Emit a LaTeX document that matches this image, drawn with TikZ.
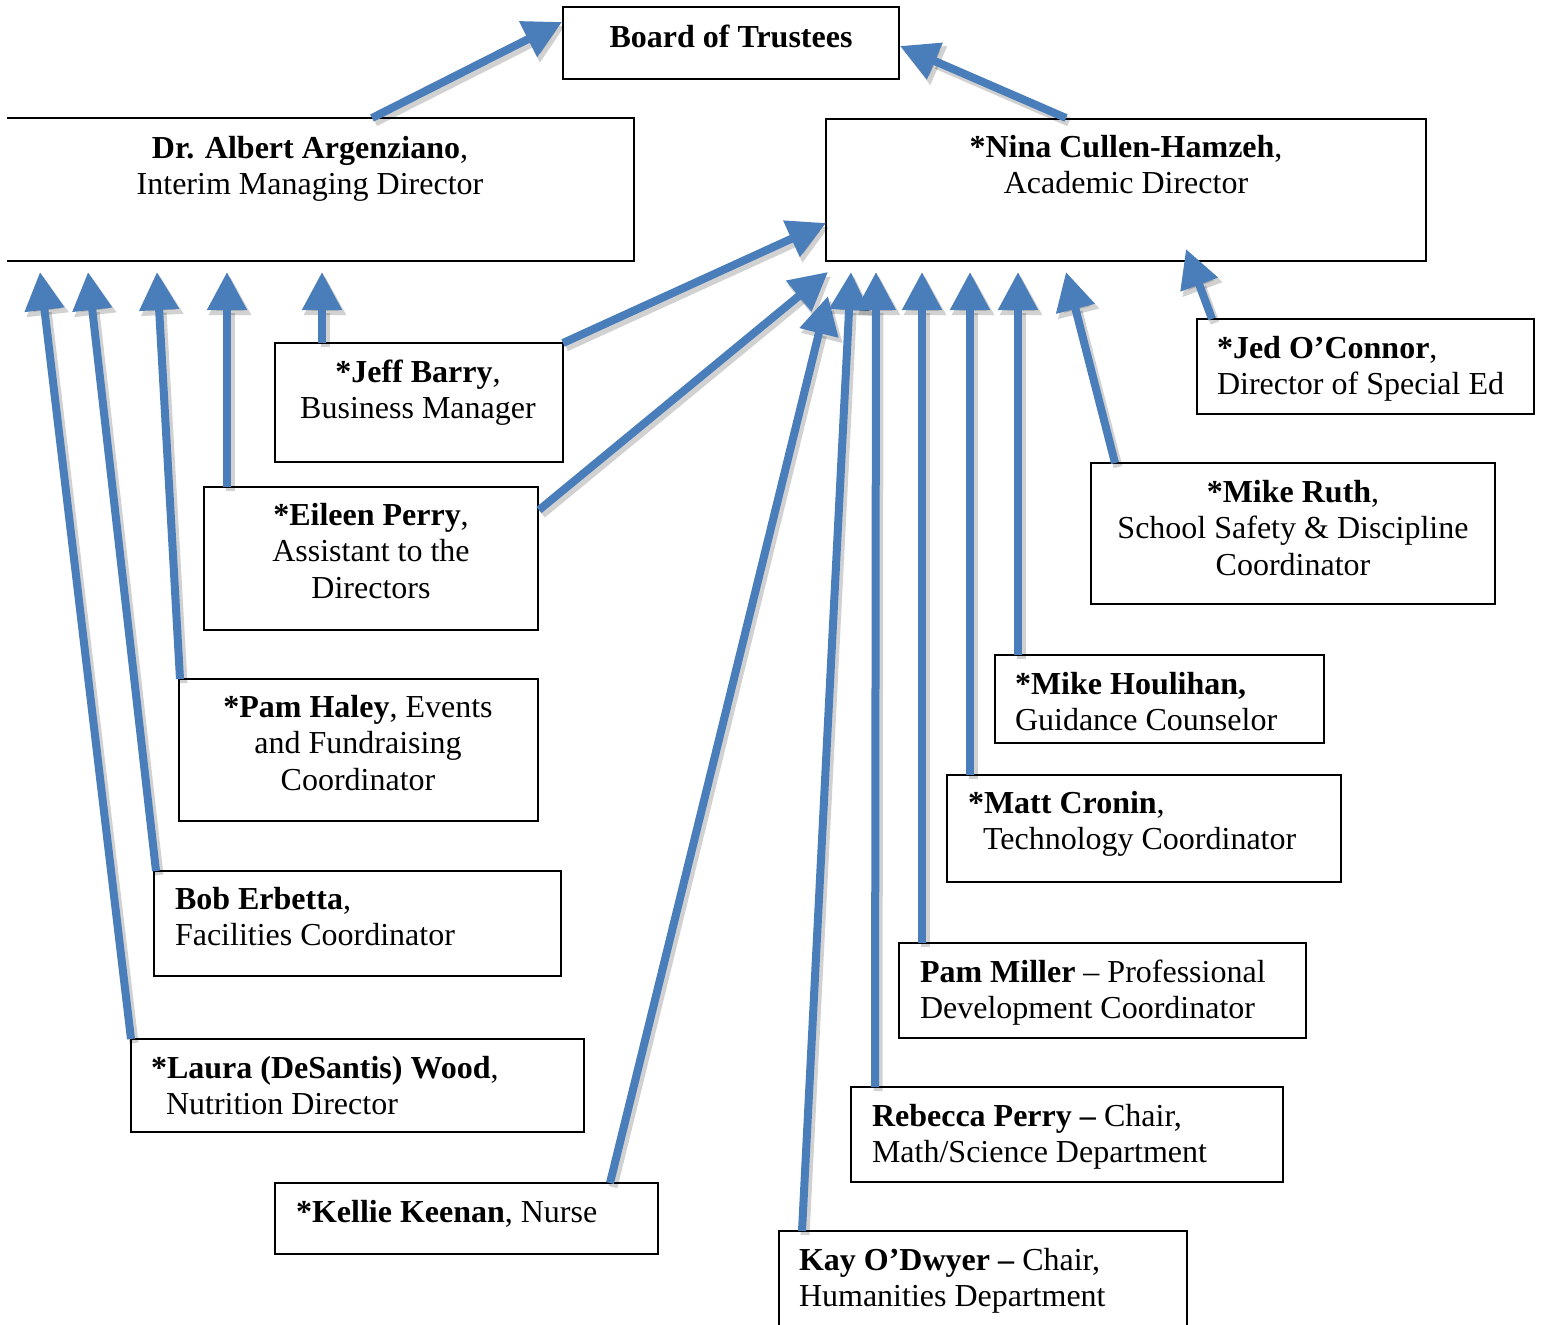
\documentclass[tikz,border=0pt]{standalone}
\usepackage{fontspec}
\setmainfont{Liberation Serif}
\usetikzlibrary{arrows.meta,calc}
\definecolor{ablue}{RGB}{74,126,187}
\newcommand\orgarrow[2]{%
  \draw[shad] #1 -- #2;
  \draw[arr] #1 -- #2;}
\begin{document}
\begin{tikzpicture}[x=1pt,y=-1pt,
  box/.style={draw=black, line width=2pt, inner sep=0pt, outer sep=0pt, anchor=north west},
  nobox/.style={inner sep=0pt, outer sep=0pt, anchor=north west},
  edge/.style={draw=black, line width=2pt},
  txtc/.style={inner sep=0pt, outer sep=0pt, anchor=base, align=center, font=\fontsize{32}{36.8}\selectfont},
  txtl/.style={inner sep=0pt, outer sep=0pt, anchor=base west, align=left, font=\fontsize{32}{36.8}\selectfont},
  arr/.style={draw=ablue, line width=8pt, -{Triangle[width=38pt,length=38pt]}},
  shad/.style={draw=black, opacity=0.18, line width=9pt, -{Triangle[width=40pt,length=39pt]}, transform canvas={shift={(3pt,-4pt)}}}
]
\useasboundingbox[fill=white] (0,0) rectangle (1542,1325);

% boxes
\node[box, minimum width=336pt, minimum height=72pt] (board) at (563,7) {};
\node[nobox, minimum width=627pt, minimum height=143pt] (albert) at (7,118) {};
\draw[edge] (albert.north west) -- (albert.north east) -- (albert.south east) -- (albert.south west);
\node[box, minimum width=600pt, minimum height=142pt] (nina) at (826,119) {};
\node[box, minimum width=337pt, minimum height=95pt] (jed) at (1197,319) {};
\node[box, minimum width=288pt, minimum height=119pt] (jeff) at (275,343) {};
\node[box, minimum width=404pt, minimum height=141pt] (ruth) at (1091,463) {};
\node[box, minimum width=334pt, minimum height=143pt] (eileen) at (204,487) {};
\node[box, minimum width=359pt, minimum height=142pt] (haley) at (179,679) {};
\node[box, minimum width=329pt, minimum height=88pt] (houlihan) at (995,655) {};
\node[box, minimum width=394pt, minimum height=107pt] (cronin) at (947,775) {};
\node[box, minimum width=407pt, minimum height=105pt] (erbetta) at (154,871) {};
\node[box, minimum width=407pt, minimum height=95pt] (miller) at (899,943) {};
\node[box, minimum width=453pt, minimum height=93pt] (wood) at (131,1039) {};
\node[box, minimum width=432pt, minimum height=95pt] (rperry) at (851,1087) {};
\node[box, minimum width=383pt, minimum height=71pt] (keenan) at (275,1183) {};
\node[nobox, minimum width=408pt, minimum height=130pt] (odwyer) at (779,1231) {};
\draw[edge] (odwyer.south west) -- (odwyer.north west) -- (odwyer.north east) -- (odwyer.south east);

% texts (anchor = baseline of the last line)
\node[txtc] (tboard) at (731,47) {\textbf{Board of Trustees}};
\node[txtc] (talbert) at (310,194.8) {\textbf{Dr. Albert Argenziano}, \\ Interim Managing Director};
\node[txtc] (tnina) at (1126,193.8) {\textbf{*Nina Cullen-Hamzeh}, \\ Academic Director};
\node[txtl] (tjed) at (1217,394.8) {\textbf{*Jed O’Connor}, \\ Director of Special Ed};
\node[txtc] (tjeff) at (418,418.8) {\textbf{*Jeff Barry}, \\ Business Manager};
\node[txtc] (truth) at (1293,575.6) {\textbf{*Mike Ruth}, \\ School Safety \& Discipline \\ Coordinator};
\node[txtc] (teileen) at (371,598.6) {\textbf{*Eileen Perry}, \\ Assistant to the \\ Directors};
\node[txtc] (thaley) at (358,790.6) {\textbf{*Pam Haley}, Events \\ and Fundraising \\ Coordinator};
\node[txtl] (thoulihan) at (1015,730.8) {\textbf{*Mike Houlihan,} \\ Guidance Counselor};
\node[txtl] (tcronin) at (968,849.8) {\textbf{*Matt Cronin}, \\ \hspace*{15pt}Technology Coordinator};
\node[txtl] (terbetta) at (175,945.8) {\textbf{Bob Erbetta}, \\ Facilities Coordinator};
\node[txtl] (tmiller) at (920,1018.8) {\textbf{Pam Miller} -- Professional \\ Development Coordinator};
\node[txtl] (twood) at (151,1114.8) {\textbf{*Laura (DeSantis) Wood}, \\ \hspace*{15pt}Nutrition Director};
\node[txtl] (trperry) at (872,1162.8) {\textbf{Rebecca Perry --} Chair, \\ Math/Science Department};
\node[txtl] (tkeenan) at (296,1222) {\textbf{*Kellie Keenan}, Nurse};
\node[txtl] (todwyer) at (799,1306.8) {\textbf{Kay O’Dwyer --} Chair, \\ Humanities Department};

% connectors to the Board
\orgarrow{($(albert.north west)+(365,0)$)}{($(board.north west)+(-1,15)$)}
\orgarrow{($(nina.north west)+(240,-1)$)}{($(board.north east)+(1,39)$)}

% connectors to Nina
\orgarrow{(jeff.north east)}{($(nina.north west)+(0,104)$)}
\orgarrow{($(eileen.north east)+(1,23)$)}{($(nina.south west)+(2,11)$)}
\orgarrow{($(keenan.north west)+(335,0)$)}{($(nina.south west)+(2,35)$)}
\orgarrow{($(odwyer.north west)+(23,0)$)}{($(nina.south west)+(25,11)$)}
\orgarrow{($(rperry.north west)+(24,0)$)}{($(nina.south west)+(50,11)$)}
\orgarrow{($(miller.north west)+(23,0)$)}{($(nina.south west)+(96,11)$)}
\orgarrow{($(cronin.north west)+(23,0)$)}{($(nina.south west)+(144,11)$)}
\orgarrow{($(houlihan.north west)+(23,0)$)}{($(nina.south west)+(192,11)$)}
\orgarrow{($(ruth.north west)+(24,0)$)}{($(nina.south west)+(240,11)$)}
\orgarrow{($(jed.north west)+(15,0)$)}{($(nina.south west)+(360,-12)$)}

% connectors to Albert
\orgarrow{($(jeff.north west)+(47,0)$)}{($(albert.south west)+(315,11)$)}
\orgarrow{($(eileen.north west)+(23,0)$)}{($(albert.south west)+(220,11)$)}
\orgarrow{($(haley.north west)+(1,0)$)}{($(albert.south west)+(150,11)$)}
\orgarrow{($(erbetta.north west)+(2,0)$)}{($(albert.south west)+(81,11)$)}
\orgarrow{($(wood.north west)+(0,0)$)}{($(albert.south west)+(33,11)$)}
\end{tikzpicture}
\end{document}
